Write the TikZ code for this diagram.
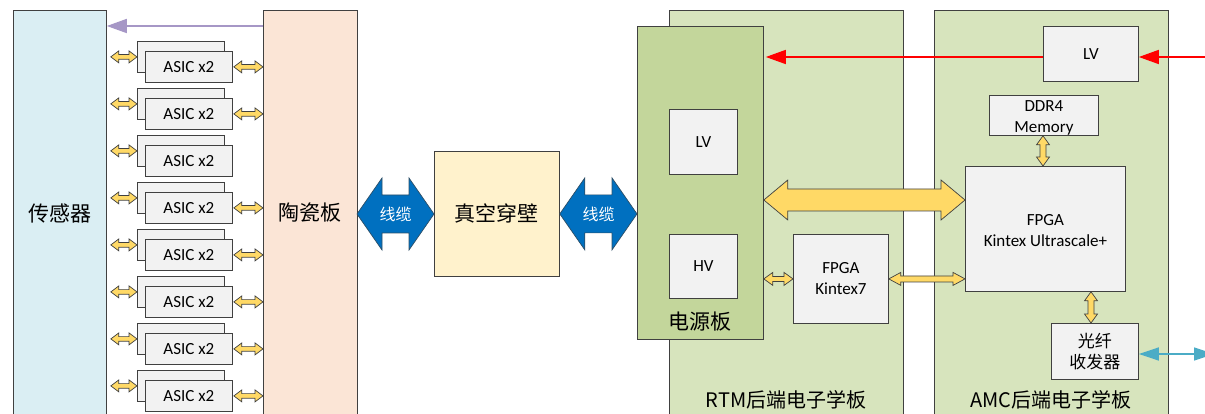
\documentclass[tikz,border=0pt]{standalone}
\usepackage{fontspec}
\setmainfont{Carlito}
\newfontfamily\cjk{Noto Sans CJK SC}
\usetikzlibrary{arrows.meta,calc}
\definecolor{edge}{HTML}{404040}
\definecolor{sensorfill}{HTML}{DAEEF3}
\definecolor{ceramicfill}{HTML}{FBE5D6}
\definecolor{chipfill}{HTML}{F2F2F2}
\definecolor{vacfill}{HTML}{FFF2CC}
\definecolor{boardfill}{HTML}{D7E4BD}
\definecolor{powerfill}{HTML}{C3D69B}
\definecolor{yel}{HTML}{FFD966}
\definecolor{blu}{HTML}{0070C0}
\definecolor{purp}{HTML}{A697C6}
\definecolor{cyanline}{HTML}{4BACC6}
\newcommand\hdarrow[6]{\path[#1] let \p1=(#2), \p2=(#3) in (\x1,\y1) -- (\x1+#4pt,\y1+#5pt) -- (\x1+#4pt,\y1+#6pt) -- (\x2-#4pt,\y1+#6pt) -- (\x2-#4pt,\y1+#5pt) -- (\x2,\y1) -- (\x2-#4pt,\y1-#5pt) -- (\x2-#4pt,\y1-#6pt) -- (\x1+#4pt,\y1-#6pt) -- (\x1+#4pt,\y1-#5pt) -- cycle;}
\newcommand\vdarrow[6]{\path[#1] let \p1=(#2), \p2=(#3) in (\x1,\y1) -- (\x1+#5pt,\y1-#4pt) -- (\x1+#6pt,\y1-#4pt) -- (\x1+#6pt,\y2+#4pt) -- (\x1+#5pt,\y2+#4pt) -- (\x1,\y2) -- (\x1-#5pt,\y2+#4pt) -- (\x1-#6pt,\y2+#4pt) -- (\x1-#6pt,\y1-#4pt) -- (\x1-#5pt,\y1-#4pt) -- cycle;}
\tikzset{
  box/.style={draw=edge, line width=0.8pt, inner sep=0pt, anchor=north west},
  chip/.style={box, fill=chipfill, font=\fontsize{17}{21}\selectfont, align=center},
  cjktext/.style={font=\cjk\fontsize{21}{25}\selectfont, inner sep=0pt},
  yarrow/.style={draw=edge, fill=yel, line width=0.7pt, line join=miter},
  barrow/.style={draw=edge!70!blu, fill=blu, line width=0.7pt},
  redarrow/.style={draw=red, line width=1.6pt, -{Triangle[length=20pt,width=14pt]}},
  purparrow/.style={draw=purp, line width=1.6pt, -{Triangle[length=20pt,width=14pt]}},
  cyanarrow/.style={draw=cyanline, line width=1.4pt, {Triangle[length=20pt,width=13pt]}-{Triangle[length=20pt,width=13pt]}},
}
\begin{document}
\begin{tikzpicture}[x=1pt,y=-1pt]
\useasboundingbox (0,0) rectangle (1205,414);
\clip (0,0) rectangle (1205,414);
% sensor and ceramic
\node[box, fill=sensorfill, minimum width=93pt, minimum height=406pt] (sensor) at (13,10) {};
\node[cjktext] (sensorlabel) at (60,213) {传感器};
\node[box, fill=ceramicfill, minimum width=94pt, minimum height=406pt] (ceramic) at (263,10) {};
\node[cjktext] (ceramiclabel) at (310,213) {陶瓷板};
% ASIC rows
\foreach \i in {1,...,8}{
  \pgfmathsetmacro{\yf}{66+47*(\i-1)}
  \node[chip, minimum width=87pt, minimum height=31pt] (bk\i) at (137,\yf-25) {};
  \node[chip, minimum width=87pt, minimum height=31pt] (fr\i) at (145,\yf-15) {ASIC x2};
  \hdarrow{yarrow}{$(sensor.east |- bk\i.west)+(4pt,0)$}{bk\i.west}{8}{6}{2.3}
}
\foreach \i in {1,2,4,5,6,7,8}{
  \hdarrow{yarrow}{$(fr\i.east)+(1pt,0)$}{fr\i.east -| ceramic.west}{8}{6}{2.3}
}
% purple arrow
\coordinate (pstart) at ($(ceramic.north west)+(0,16)$);
\draw[purparrow] (pstart) -- (pstart -| sensor.east);
% vacuum feedthrough
\node[box, fill=vacfill, minimum width=125pt, minimum height=125pt] (vac) at (434,151) {};
\node[cjktext] (vaclabel) at (vac.center) {真空穿壁};
% RTM and AMC boards
\node[box, fill=boardfill, minimum width=234pt, minimum height=410pt] (rtm) at (669,10) {};
\node[cjktext, font=\cjk\fontsize{20}{24}\selectfont] (rtmlabel) at (786,400) {RTM后端电子学板};
\node[box, fill=boardfill, minimum width=234pt, minimum height=410pt] (amc) at (934,10) {};
\node[cjktext, font=\cjk\fontsize{20}{24}\selectfont] (amclabel) at (1051,400) {AMC后端电子学板};
% power board
\node[box, fill=powerfill, minimum width=126pt, minimum height=313pt] (power) at (637,26) {};
\node[cjktext] (powerlabel) at (700,322) {电源板};
\node[chip, minimum width=68pt, minimum height=65pt] (plv) at (669,109) {};
\node (plvt) at (plv.center) {\fontsize{17}{21}\selectfont LV};
\node[chip, minimum width=68pt, minimum height=64pt] (phv) at (669,234) {};
\node (phvt) at (phv.center) {\fontsize{17}{21}\selectfont HV};
% blue cable arrows
\hdarrow{barrow}{357,214}{vac.west}{25}{36}{19}
\node[cjktext, font=\cjk\fontsize{16}{20}\selectfont, text=white] (cab1) at (395.5,214) {线缆};
\hdarrow{barrow}{vac.east}{power.west |- 0,214}{25}{36}{19}
\node[cjktext, font=\cjk\fontsize{16}{20}\selectfont, text=white] (cab2) at (598.5,214) {线缆};
% RTM FPGA
\node[chip, minimum width=95pt, minimum height=89pt] (k7) at (793,234) {};
\node[align=center, font=\fontsize{17}{21}\selectfont] (k7t) at (k7.center) {FPGA\\Kintex7};
% AMC content
\node[chip, minimum width=95pt, minimum height=55pt] (amclv) at (1043,26) {};
\node (amclvt) at (amclv.center) {\fontsize{17}{21}\selectfont LV};
\node[chip, minimum width=109pt, minimum height=40pt] (ddr) at (989,95) {};
\node[align=center, font=\fontsize{17}{21}\selectfont] (ddrt) at ($(ddr.center)+(0,3)$) {DDR4\\Memory};
\node[chip, minimum width=160pt, minimum height=125pt] (ku) at (965,166) {};
\node[align=center, font=\fontsize{17}{21}\selectfont] (kut) at ($(ku.center)+(0,2)$) {FPGA\\Kintex Ultrascale+};
\node[chip, minimum width=87pt, minimum height=56pt] (oe) at (1051,323) {};
\node[align=center, font=\cjk\fontsize{17}{21}\selectfont] (oet) at (oe.center) {光纤\\收发器};
% yellow links
\hdarrow{yarrow}{power.east |- 0,200}{ku.west |- 0,200}{24}{20}{11}
\hdarrow{yarrow}{power.east |- k7.west}{k7.west}{9}{6.5}{2.5}
\hdarrow{yarrow}{k7.east}{ku.west |- k7.east}{12}{6.5}{3}
\vdarrow{yarrow}{ddr.south -| 1043,0}{ku.north -| 1043,0}{9}{6.5}{3}
\vdarrow{yarrow}{ku.south -| 1091,0}{oe.north -| 1091,0}{9}{6.5}{3}
% red power lines
\coordinate (redin) at (1210,57);
\draw[redarrow] (redin) -- (amclv.east |- redin);
\draw[redarrow, shorten >=2pt] (amclv.west |- redin) -- (power.east |- redin);
% optical link
\coordinate (optout) at (1214,354);
\draw[cyanarrow] (oe.east |- optout) -- (optout);
\end{tikzpicture}
\end{document}
